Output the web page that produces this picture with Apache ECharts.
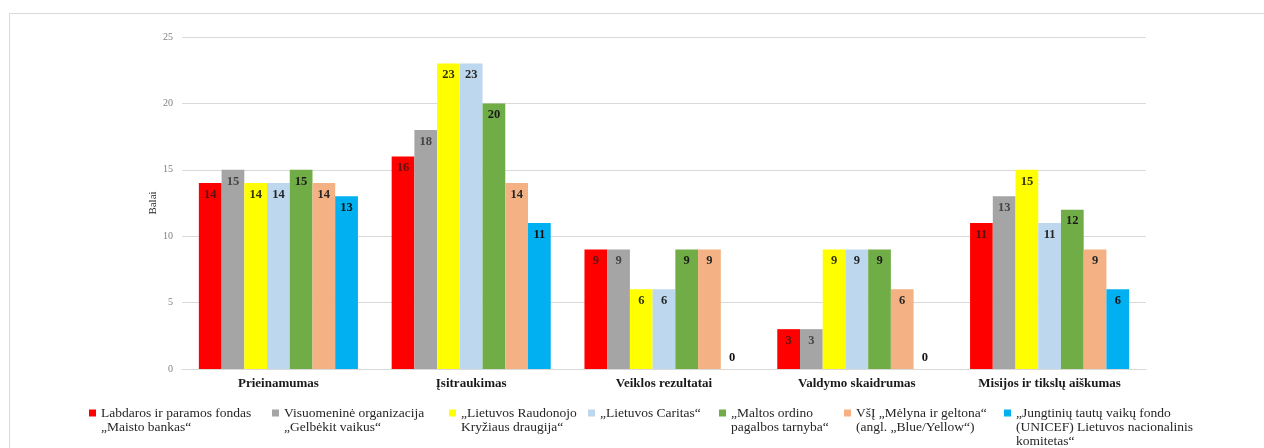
<!DOCTYPE html>
<html>
<head>
	<meta charset="utf-8">
	<title>Balai</title>
	<script src="https://cdn.jsdelivr.net/npm/echarts@6/dist/echarts.min.js"></script>
	<style>
		body { margin: 0; background: #fff; }
		#chart { width: 1264px; height: 448px; }
	</style>
</head>
<body>
	<div id="chart"></div>
	<script>
		var categories = ['Prieinamumas', 'Įsitraukimas', 'Veiklos rezultatai', 'Valdymo skaidrumas', 'Misijos ir tikslų aiškumas'];
		var seriesNames = [
			'Labdaros ir paramos fondas\n„Maisto bankas“',
			'Visuomeninė organizacija\n„Gelbėkit vaikus“',
			'„Lietuvos Raudonojo\nKryžiaus draugija“',
			'„Lietuvos Caritas“',
			'„Maltos ordino\npagalbos tarnyba“',
			'VšĮ „Mėlyna ir geltona“\n(angl. „Blue/Yellow“)',
			'„Jungtinių tautų vaikų fondo\n(UNICEF) Lietuvos nacionalinis\nkomitetas“'
		];
		var maistoBankas = [14, 16, 9, 3, 11];
		var gelbekitVaikus = [15, 18, 9, 3, 13];
		var raudonasisKryzius = [14, 23, 6, 9, 15];
		var caritas = [14, 23, 6, 9, 11];
		var maltosOrdinas = [15, 20, 9, 9, 12];
		var melynaGeltona = [14, 14, 9, 6, 9];
		var unicef = [13, 11, 0, 0, 6];
		var yTicks = [0, 5, 10, 15, 20, 25];

		var values = [maistoBankas, gelbekitVaikus, raudonasisKryzius, caritas, maltosOrdinas, melynaGeltona, unicef];
		var colors = ['#FF0000', '#A5A5A5', '#FFFF00', '#BDD7EE', '#70AD47', '#F4B183', '#00B0F0'];
		var labelColors = ['#5a1010', '#444444', '#333300', '#262626', '#1a1a1a', '#262626', '#111111'];
		var legendLeft = [89, 272, 449, 588, 719, 844, 1004];
		var serif = '"Liberation Serif", "Times New Roman", serif';

		var chart = echarts.init(document.getElementById('chart'));

		var series = values.map(function (vals, i) {
			return {
				name: seriesNames[i],
				type: 'bar',
				barGap: 0,
				barCategoryGap: '17.5%',
				itemStyle: { color: colors[i] },
				label: {
					show: true,
					position: 'insideTop',
					distance: 5,
					fontFamily: serif,
					fontWeight: 'bold',
					fontSize: 12.5,
					color: labelColors[i]
				},
				data: vals.map(function (v) {
					return v === 0 ? { value: v, label: { position: 'top', color: '#111' } } : v;
				})
			};
		});

		// one legend per item, so the icon sits on the first text line
		var legends = seriesNames.map(function (name, i) {
			var lines = name.split('\n').length;
			return {
				data: [name],
				left: legendLeft[i],
				top: 413 - (2 * lines - 1) * 7,
				padding: 0,
				itemWidth: 7,
				itemHeight: 7,
				itemGap: 0,
				icon: 'rect',
				selectedMode: false,
				formatter: function (n) {
					var pad = '';
					for (var k = 1; k < lines; k++) pad += ' \n';
					return pad + n;
				},
				textStyle: {
					fontFamily: serif,
					fontSize: 13.5,
					lineHeight: 14,
					color: '#262626'
				}
			};
		});

		var option = {
			animation: false,
			graphic: [{
				type: 'rect',
				left: 7,
				top: 11,
				shape: { width: 1270, height: 450 },
				style: { fill: 'none', stroke: '#d9d9d9', lineWidth: 1 }
			}],
			legend: legends,
			grid: { left: 182, right: 118, top: 37, bottom: 79 },
			xAxis: {
				type: 'category',
				data: categories,
				axisTick: { show: false },
				axisLine: { lineStyle: { color: '#d9d9d9' } },
				axisLabel: {
					margin: 8,
					fontFamily: serif,
					fontWeight: 'bold',
					fontSize: 13,
					color: '#1a1a1a'
				}
			},
			yAxis: {
				type: 'value',
				min: yTicks[0],
				max: yTicks[yTicks.length - 1],
				interval: 5,
				name: 'Balai',
				nameLocation: 'middle',
				nameRotate: 90,
				nameGap: 23,
				nameMoveOverlap: false,
				nameTextStyle: { fontFamily: serif, fontSize: 11, color: '#262626' },
				axisLine: { show: false },
				axisTick: { show: false },
				splitLine: { lineStyle: { color: '#d9d9d9' } },
				axisLabel: {
					margin: 9,
					fontFamily: serif,
					fontSize: 10,
					color: '#7f7f7f'
				}
			},
			series: series
		};
		chart.setOption(option);
	</script>
</body>
</html>
